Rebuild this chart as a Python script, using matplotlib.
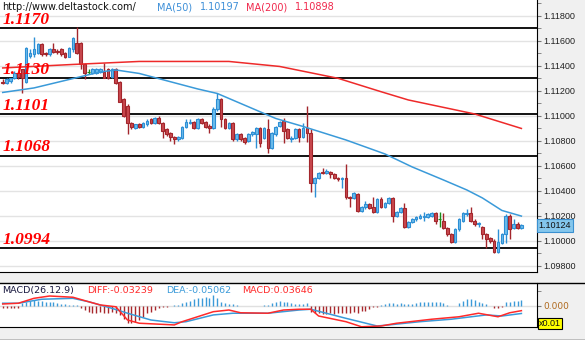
import numpy as np
import matplotlib.pyplot as plt
from matplotlib.lines import Line2D
from matplotlib.ticker import FormatStrFormatter, MultipleLocator
from matplotlib.transforms import blended_transform_factory

# hourly OHLC bars, oldest first
opens = [1.1127, 1.1126, 1.1128, 1.1130, 1.1134, 1.1137, 1.1127, 1.1148, 1.1149, 1.1150,
         1.1157, 1.1150, 1.1149, 1.1153, 1.1152, 1.1153, 1.1150, 1.1147, 1.1153, 1.1158,
         1.1158, 1.1141, 1.1135, 1.1134, 1.1134, 1.1135, 1.1135, 1.1137, 1.1131, 1.1137,
         1.1127, 1.1113, 1.1108, 1.1094, 1.1090, 1.1093, 1.1091, 1.1093, 1.1097, 1.1094,
         1.1098, 1.1094, 1.1089, 1.1086, 1.1083, 1.1081, 1.1082, 1.1091, 1.1094, 1.1095,
         1.1090, 1.1097, 1.1095, 1.1092, 1.1090, 1.1105, 1.1113, 1.1097, 1.1090, 1.1094,
         1.1081, 1.1085, 1.1082, 1.1080, 1.1085, 1.1085, 1.1090, 1.1082, 1.1089, 1.1074,
         1.1085, 1.1092, 1.1096, 1.1089, 1.1081, 1.1082, 1.1089, 1.1083, 1.1090, 1.1086,
         1.1046, 1.1050, 1.1055, 1.1054, 1.1055, 1.1053, 1.1050, 1.1049, 1.1050, 1.1035,
         1.1034, 1.1037, 1.1024, 1.1027, 1.1029, 1.1027, 1.1023, 1.1033, 1.1027, 1.1030,
         1.1034, 1.1020, 1.1023, 1.1026, 1.1011, 1.1015, 1.1017, 1.1018, 1.1019, 1.1019,
         1.1020, 1.1022, 1.1017, 1.1016, 1.1010, 1.1005, 1.0999, 1.1009, 1.1016, 1.1021,
         1.1022, 1.1016, 1.1013, 1.1011, 1.1005, 1.1002, 1.1000, 1.0991, 1.0998, 1.1005,
         1.1020, 1.1010, 1.1013, 1.1010]
highs = [1.1129, 1.1130, 1.1130, 1.1136, 1.1135, 1.1137, 1.1155, 1.1153, 1.1163, 1.1158,
         1.1158, 1.1151, 1.1154, 1.1158, 1.1153, 1.1154, 1.1151, 1.1155, 1.1163, 1.1171,
         1.1159, 1.1142, 1.1137, 1.1138, 1.1138, 1.1138, 1.1142, 1.1138, 1.1138, 1.1138,
         1.1128, 1.1114, 1.1109, 1.1095, 1.1093, 1.1094, 1.1095, 1.1097, 1.1098, 1.1099,
         1.1100, 1.1095, 1.1090, 1.1087, 1.1084, 1.1084, 1.1092, 1.1097, 1.1097, 1.1096,
         1.1098, 1.1098, 1.1096, 1.1093, 1.1107, 1.1118, 1.1114, 1.1098, 1.1095, 1.1095,
         1.1086, 1.1086, 1.1083, 1.1086, 1.1088, 1.1091, 1.1091, 1.1091, 1.1097, 1.1087,
         1.1092, 1.1096, 1.1098, 1.1090, 1.1084, 1.1090, 1.1090, 1.1094, 1.1108, 1.1089,
         1.1051, 1.1055, 1.1058, 1.1057, 1.1056, 1.1054, 1.1051, 1.1051, 1.1061, 1.1036,
         1.1039, 1.1038, 1.1028, 1.1032, 1.1030, 1.1035, 1.1034, 1.1035, 1.1031, 1.1035,
         1.1035, 1.1024, 1.1027, 1.1030, 1.1016, 1.1018, 1.1020, 1.1021, 1.1023, 1.1022,
         1.1023, 1.1023, 1.1023, 1.1022, 1.1011, 1.1006, 1.1010, 1.1018, 1.1023, 1.1025,
         1.1027, 1.1017, 1.1015, 1.1012, 1.1006, 1.1003, 1.1001, 1.1009, 1.1006, 1.1021,
         1.1021, 1.1017, 1.1015, 1.1013]
lows = [1.1125, 1.1125, 1.1126, 1.1129, 1.1129, 1.1118, 1.1126, 1.1146, 1.1147, 1.1149,
        1.1148, 1.1148, 1.1148, 1.1150, 1.1149, 1.1148, 1.1146, 1.1147, 1.1151, 1.1149,
        1.1137, 1.1129, 1.1133, 1.1133, 1.1133, 1.1134, 1.1130, 1.1129, 1.1130, 1.1125,
        1.1111, 1.1099, 1.1085, 1.1089, 1.1089, 1.1090, 1.1090, 1.1092, 1.1093, 1.1093,
        1.1093, 1.1082, 1.1084, 1.1080, 1.1077, 1.1080, 1.1081, 1.1090, 1.1093, 1.1089,
        1.1089, 1.1093, 1.1090, 1.1086, 1.1089, 1.1104, 1.1091, 1.1089, 1.1089, 1.1080,
        1.1080, 1.1080, 1.1077, 1.1079, 1.1084, 1.1074, 1.1075, 1.1081, 1.1070, 1.1073,
        1.1084, 1.1091, 1.1078, 1.1081, 1.1079, 1.1081, 1.1079, 1.1082, 1.1079, 1.1039,
        1.1035, 1.1049, 1.1053, 1.1053, 1.1050, 1.1049, 1.1048, 1.1042, 1.1033, 1.1027,
        1.1033, 1.1023, 1.1023, 1.1025, 1.1025, 1.1022, 1.1022, 1.1026, 1.1026, 1.1029,
        1.1015, 1.1019, 1.1022, 1.1010, 1.1010, 1.1014, 1.1016, 1.1017, 1.1016, 1.1018,
        1.1019, 1.1013, 1.1011, 1.1009, 1.1004, 1.0998, 1.0998, 1.1008, 1.1015, 1.1020,
        1.1015, 1.1012, 1.1011, 1.1001, 1.0994, 1.0998, 1.0990, 1.0990, 1.0997, 1.0998,
        1.1001, 1.1009, 1.1009, 1.1009]
closes = [1.1126, 1.1129, 1.1130, 1.1134, 1.1131, 1.1130, 1.1154, 1.1150, 1.1153, 1.1157,
          1.1149, 1.1149, 1.1153, 1.1151, 1.1151, 1.1149, 1.1147, 1.1154, 1.1162, 1.1150,
          1.1141, 1.1134, 1.1135, 1.1137, 1.1137, 1.1137, 1.1130, 1.1130, 1.1137, 1.1126,
          1.1111, 1.1100, 1.1094, 1.1091, 1.1093, 1.1091, 1.1094, 1.1096, 1.1094, 1.1098,
          1.1094, 1.1088, 1.1085, 1.1083, 1.1081, 1.1083, 1.1091, 1.1095, 1.1095, 1.1090,
          1.1097, 1.1094, 1.1091, 1.1090, 1.1105, 1.1113, 1.1097, 1.1090, 1.1094, 1.1081,
          1.1085, 1.1081, 1.1079, 1.1085, 1.1087, 1.1090, 1.1078, 1.1090, 1.1074, 1.1086,
          1.1091, 1.1095, 1.1088, 1.1082, 1.1082, 1.1089, 1.1083, 1.1090, 1.1086, 1.1046,
          1.1050, 1.1054, 1.1054, 1.1056, 1.1053, 1.1050, 1.1049, 1.1050, 1.1035, 1.1034,
          1.1038, 1.1024, 1.1027, 1.1029, 1.1026, 1.1023, 1.1033, 1.1027, 1.1030, 1.1034,
          1.1020, 1.1023, 1.1026, 1.1011, 1.1015, 1.1017, 1.1019, 1.1020, 1.1020, 1.1021,
          1.1022, 1.1016, 1.1017, 1.1010, 1.1005, 1.0999, 1.1009, 1.1017, 1.1022, 1.1022,
          1.1016, 1.1013, 1.1014, 1.1005, 1.1001, 1.1000, 1.0991, 1.0999, 1.1005, 1.1020,
          1.1009, 1.1013, 1.1010, 1.10124]

# moving averages, sampled at bar indices
ma50_at = [0, 8, 16, 25, 29, 35, 50, 55, 70, 77, 88, 98, 105, 113, 119, 123, 128, 133]
ma50 = [1.11186, 1.11222, 1.11282, 1.11350, 1.11366, 1.11338, 1.11214, 1.11178, 1.10978,
        1.10914, 1.10806, 1.10694, 1.10590, 1.10486, 1.10406, 1.10342, 1.10242, 1.10197]
ma200_at = [0, 18, 35, 58, 71, 86, 97, 104, 121, 133]
ma200 = [1.11382, 1.11410, 1.11434, 1.11434, 1.11394, 1.11299, 1.11192, 1.11126, 1.11014, 1.10898]

# MACD(26,12,9) lines sampled at bar indices, histogram per bar
diff_at = [0, 4, 8, 12, 18, 22, 25, 29, 32, 35, 44, 46, 54, 58, 61, 68, 72, 76, 79, 81, 88,
           92, 97, 101, 110, 117, 122, 127, 130, 133]
diff = [0.011, 0.016, 0.048, 0.063, 0.055, 0.026, 0.005, -0.007, -0.093, -0.114, -0.125,
        -0.104, -0.039, -0.028, -0.046, -0.049, -0.028, -0.023, -0.023, -0.067, -0.104,
        -0.137, -0.132, -0.114, -0.088, -0.072, -0.049, -0.072, -0.046, -0.03239]
dea_at = [0, 4, 10, 18, 22, 28, 32, 38, 44, 47, 54, 59, 68, 76, 79, 88, 96, 99, 107, 115,
          124, 128, 133]
dea = [0.016, 0.016, 0.042, 0.048, 0.026, -0.017, -0.049, -0.093, -0.111, -0.104, -0.060,
       -0.049, -0.049, -0.028, -0.023, -0.082, -0.132, -0.125, -0.104, -0.088, -0.060,
       -0.067, -0.05062]
macd_hist = [-0.013, -0.013, -0.013, -0.013, -0.013, 0.015, 0.022, 0.030, 0.037, 0.033,
             0.030, 0.026, 0.026, 0.022, 0.015, 0.011, 0.009, 0.007, 0.005, 0.003,
             -0.017, -0.028, -0.039, -0.046, -0.050, -0.039, -0.046, -0.046, -0.039, -0.046,
             -0.061, -0.089, -0.111, -0.115, -0.104, -0.093, -0.072, -0.050, -0.039, -0.028,
             -0.017, -0.011, -0.006, -0.003, 0.002, 0.004, 0.020, 0.026, 0.033, 0.041,
             0.048, 0.048, 0.054, 0.048, 0.069, 0.048, 0.026, 0.015, 0.011, 0.009,
             0.007, -0.004, -0.004, -0.003, -0.004, -0.003, -0.002, 0.004, 0.006, 0.015,
             0.026, 0.030, 0.026, 0.026, 0.015, 0.009, 0.009, 0.011, 0.015, -0.039,
             -0.050, -0.050, -0.054, -0.054, -0.050, -0.054, -0.046, -0.046, -0.050, -0.046,
             -0.039, -0.050, -0.033, -0.033, -0.024, -0.011, -0.006, 0.002, 0.011, 0.015,
             0.015, 0.009, 0.015, 0.009, 0.009, 0.011, 0.015, 0.022, 0.022, 0.026,
             0.026, 0.022, 0.026, 0.015, 0.004, -0.004, -0.003, 0.015, 0.033, 0.041,
             0.041, 0.037, 0.026, 0.015, 0.009, -0.004, -0.017, -0.017, -0.006, 0.022,
             0.026, 0.030, 0.030, 0.03646]

levels = [1.1170, 1.1130, 1.1101, 1.1068, 1.0994]

UP_EDGE, UP_FILL = '#2d8fd5', '#6cbdec'
DN_EDGE, DN_FILL = '#a3262c', '#c9484e'
FLAT = '#1b8c1b'
PANEL = '#f0f0f0'

fig = plt.figure(figsize=(5.85, 3.40), dpi=100, facecolor=PANEL)
ax = fig.add_axes([0, 68 / 340, 537 / 585, 272 / 340])
mx = fig.add_axes([0, 13 / 340, 537 / 585, 44 / 340])

o, h, l, c = (np.array(v) for v in (opens, highs, lows, closes))
x = np.arange(len(o))
xlim = (-0.7, 137.0)

# candles
body = np.maximum(np.abs(c - o), 0.000012)
for mask, edge, fill in [(c > o, UP_EDGE, UP_FILL), (c < o, DN_EDGE, DN_FILL),
                         (c == o, FLAT, FLAT)]:
    ax.vlines(x[mask], l[mask], h[mask], color=edge, lw=1, zorder=3)
    ax.bar(x[mask], body[mask], bottom=np.minimum(o, c)[mask], width=0.68,
           facecolor=fill, edgecolor=edge, lw=0.8, zorder=4)

ax.plot(ma50_at, ma50, color='#3a9ad9', lw=1.1, zorder=5)
ax.plot(ma200_at, ma200, color='#ee2a2a', lw=1.1, zorder=5)

# support / resistance levels
for lv in levels:
    ax.axhline(lv, color='black', lw=1.3, zorder=2)
    ax.annotate(f'{lv:.4f}', xy=(0, lv), xycoords=('axes fraction', 'data'),
                xytext=(2, 3.2), textcoords='offset points', va='baseline', ha='left',
                color='red', fontsize=12.5, fontweight='bold', fontstyle='italic',
                family='Liberation Serif', zorder=6)

ax.set_xlim(*xlim)
ax.set_ylim(1.097496, 1.119256)
ax.set_facecolor('white')
ax.yaxis.tick_right()
ax.yaxis.set_major_locator(MultipleLocator(0.002))
ax.yaxis.set_minor_locator(MultipleLocator(0.001))
ax.yaxis.set_major_formatter(FormatStrFormatter('%.5f'))
ax.tick_params(axis='y', which='both', direction='out', length=3, color='#777777',
               labelsize=6.5, pad=1.5, labelcolor='#222222')
for t in ax.get_yticklabels():
    t.set_family('Liberation Sans')
ax.set_xticks([])
ax.grid(axis='y', which='major', color='#e3e3e3', lw=1, zorder=0)
for s in ('top', 'left'):
    ax.spines[s].set_visible(False)
ax.spines['right'].set_color('black')
ax.spines['bottom'].set_color('black')

# last price tag
tr = blended_transform_factory(ax.transAxes, ax.transData)
ax.text(1.003, c[-1], f'{c[-1]:.5f}', transform=tr, va='center', ha='left',
        fontsize=6.5, family='Liberation Sans', color='#111111', zorder=7,
        bbox=dict(boxstyle='square,pad=0.2', fc='#84c6ec', ec='#3a90d0', lw=0.8))

# header
fig.text(2 / 585, 1 - 7.5 / 340, 'http://www.deltastock.com/', fontsize=7, va='center',
         color='#111111')
fig.text(157 / 585, 1 - 7.5 / 340, 'MA(50)', fontsize=7, va='center', color='#3d8fd8')
fig.text(200 / 585, 1 - 7.5 / 340, f'{ma50[-1]:.5f}', fontsize=7, va='center', color='#3d8fd8')
fig.text(246 / 585, 1 - 7.5 / 340, 'MA(200)', fontsize=7, va='center', color='#f0284c')
fig.text(295 / 585, 1 - 7.5 / 340, f'{ma200[-1]:.5f}', fontsize=7, va='center', color='#f0284c')

# MACD pane
mx.set_facecolor('white')
mx.axhline(0, color='#e0e0e0', lw=1, zorder=0)
hv = np.array(macd_hist)
mx.vlines(x[hv >= 0], 0, hv[hv >= 0], color='#3c9ad8', lw=1)
mx.vlines(x[hv < 0], 0, hv[hv < 0], color='#a8282c', lw=1)
mx.plot(dea_at, dea, color='#3a9ad9', lw=1.1)
mx.plot(diff_at, diff, color='#ff2a2a', lw=1.1)
mx.set_xlim(*xlim)
mx.set_ylim(-0.1385, 0.1476)
mx.yaxis.tick_right()
mx.set_yticks([0])
mx.set_yticklabels(['0.000'])
mx.set_yticks([-0.095, 0.095], minor=True)
mx.tick_params(axis='y', which='both', direction='out', length=3, color='#777777',
               labelsize=6.5, pad=1.5, labelcolor='#b06a1e')
mx.set_xticks([])
for s in ('top', 'left'):
    mx.spines[s].set_visible(False)

ly = 1 - 290.5 / 340
fig.text(2 / 585, ly, 'MACD(26.12.9)', fontsize=6.8, va='center', color='#1a1a40')
fig.text(87 / 585, ly, f'DIFF:{diff[-1]:.5f}', fontsize=6.8, va='center', color='#ff2a2a')
fig.text(166 / 585, ly, f'DEA:{dea[-1]:.5f}', fontsize=6.8, va='center', color='#3a9ad9')
fig.text(242 / 585, ly, f'MACD:{macd_hist[-1]:.5f}', fontsize=6.8, va='center',
         color='#ff2a2a')
fig.text(539 / 585, 1 - 323.5 / 340, 'x0.01', fontsize=6.5, va='center', color='#111111',
         family='Liberation Sans',
         bbox=dict(boxstyle='square,pad=0.15', fc='#ffff00', ec='black', lw=0.8))

# pane separators
for yy in (283, 339.5):
    fig.add_artist(Line2D([0, 1], [1 - yy / 340] * 2, color='black', lw=1))

fig.savefig('out.png', dpi=100, facecolor=PANEL)
